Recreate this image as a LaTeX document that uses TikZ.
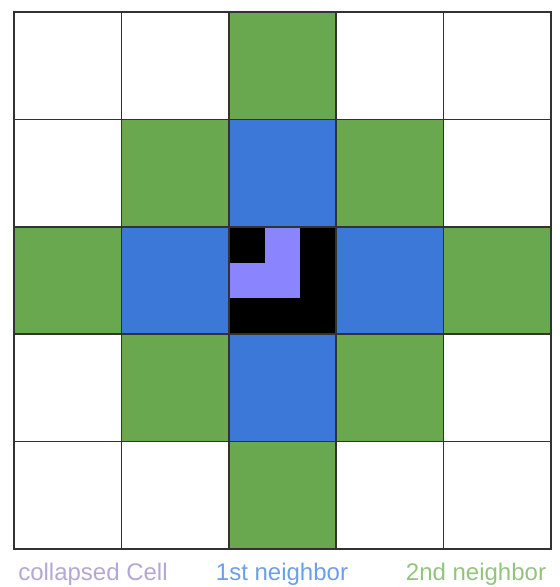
\documentclass[tikz,border=0pt]{standalone}
\usepackage{fontspec}
\setmainfont{Liberation Sans}
\usetikzlibrary{positioning}
\definecolor{gridline}{RGB}{50,50,50}
\definecolor{second}{HTML}{6AA84F}
\definecolor{first}{HTML}{3C78D8}
\definecolor{collapsed}{HTML}{8A85FF}
\definecolor{secondtxt}{HTML}{93C47D}
\definecolor{firsttxt}{HTML}{6D9EEB}
\definecolor{collapsedtxt}{HTML}{B4A7D6}
\tikzset{
  cell/.style={inner sep=0pt, outer sep=0pt, minimum size=107.4pt},
  border/.style={draw=gridline, line width=1.5pt},
  subcell/.style={fill=collapsed, inner sep=0pt, outer sep=0pt, minimum size=35.8pt},
  legend/.style={font=\fontsize{24}{28}\selectfont, anchor=base}
}
\begin{document}
\begin{tikzpicture}[x=1pt, y=-1pt]
  \useasboundingbox (0,0) rectangle (560,587);
  % cells, coloured by distance to the centre
  \foreach \r in {0,...,4} {
    \foreach \c in {0,...,4} {
      \pgfmathtruncatemacro{\dist}{abs(\r-2)+abs(\c-2)}
      \ifcase\dist
        \def\cellfill{black}\or
        \def\cellfill{first}\or
        \def\cellfill{second}\else
        \def\cellfill{white}\fi
      \node[cell, fill=\cellfill] (c\r\c) at (67.7+107.4*\c, 65.7+107.4*\r) {};
    }
  }
  % collapsed cell
  \node[subcell] (p1) at (c22) {};
  \node[subcell, above=0pt of p1] (p2) {};
  \node[subcell, left=0pt of p1] (p3) {};
  % grid lines on top
  \foreach \r in {0,...,4}
    \foreach \c in {0,...,4}
      \draw[border] (c\r\c.north west) rectangle (c\r\c.south east);
  % legend
  \node[legend, text=collapsedtxt] (lc) at (93,580) {collapsed Cell};
  \node[legend, text=firsttxt] (l1) at (282,580) {1st neighbor};
  \node[legend, text=secondtxt] (l2) at (476,580) {2nd neighbor};
\end{tikzpicture}
\end{document}
